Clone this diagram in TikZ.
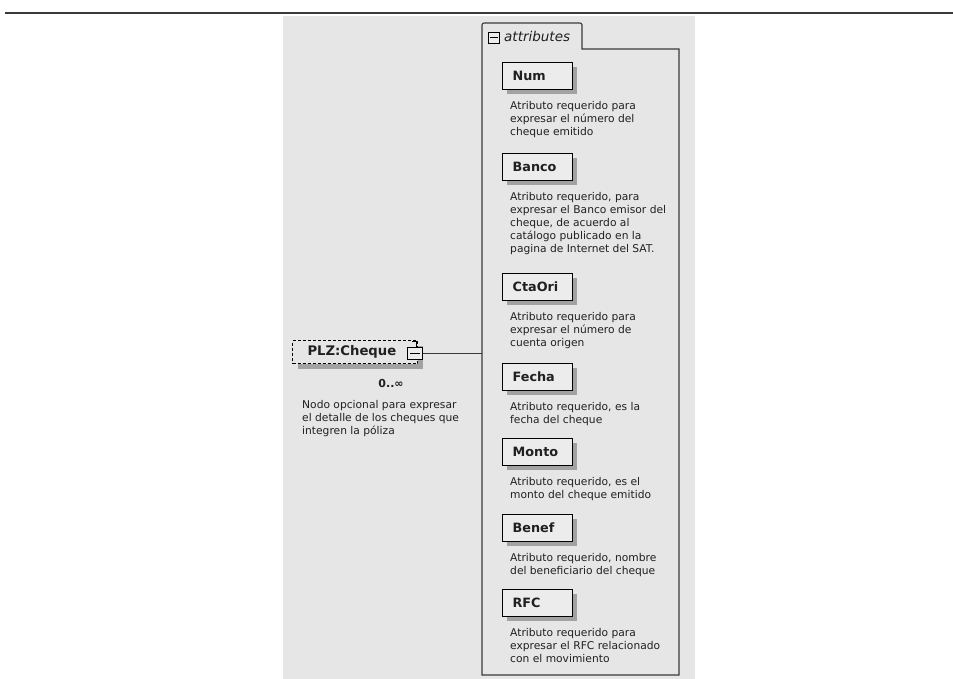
\documentclass[tikz,border=0pt]{standalone}
\usepackage{fontspec}
\setmainfont{DejaVu Sans}
\usetikzlibrary{shadows}
\definecolor{panel}{HTML}{E6E6E6}
\definecolor{boxfill}{HTML}{ECECEC}
\definecolor{shadowc}{HTML}{A2A2A2}
\definecolor{linec}{HTML}{3A3A3A}
\definecolor{textc}{HTML}{202020}
\tikzset{
  attr/.style={draw=black, line width=1.2pt, fill=boxfill, anchor=north west,
    minimum height=27pt, text width=50pt, inner xsep=10pt, inner ysep=0pt, align=left,
    font=\fontsize{12.8}{14}\selectfont\bfseries, text=textc,
    drop shadow={shadow xshift=4.5pt, shadow yshift=-4.5pt, fill=shadowc, opacity=1}},
  desc/.style={anchor=north west, inner sep=0pt, align=left, text=textc,
    font=\fontsize{10.7}{13}\selectfont},
  minusbox/.style={draw=black, line width=0.9pt, fill=boxfill, minimum width=15pt,
    minimum height=12pt, inner sep=0pt},
}
\begin{document}
\begin{tikzpicture}[x=1pt,y=-1pt]
\useasboundingbox (0,0) rectangle (953,679);
% top rule
\draw[line width=2.6pt, color=linec] (5,13) -- (953,13);
% panel
\fill[panel] (283,16) rectangle (695,679);
% attributes container with tab
\draw[linec, line width=1.1pt, fill=panel] (482,675) -- (482,25) [rounded corners=2pt] -- (482,23) -- (582,23) [sharp corners] -- (582,49) -- (679,49) -- (679,675) -- cycle;
\node[minusbox, minimum width=11pt, minimum height=11pt, anchor=north west] (tabicon) at (488,32) {};
\draw[line width=0.9pt] ([xshift=2pt]tabicon.west) -- ([xshift=-2pt]tabicon.east);
\node[anchor=base west, inner sep=0pt, font=\fontsize{13.5}{15}\selectfont\itshape, text=textc] (tablabel) at (504,42) {attributes};

% attribute boxes
\node[attr] (num) at (502,62) {Num};
\node[desc] (numd) at (510,101) {Atributo requerido para\\expresar el número del\\cheque emitido};

\node[attr] (banco) at (502,153) {Banco};
\node[desc] (bancod) at (510,192) {Atributo requerido, para\\expresar el Banco emisor del\\cheque, de acuerdo al\\catálogo publicado en la\\pagina de Internet del SAT.};

\node[attr] (ctaori) at (502,273) {CtaOri};
\node[desc] (ctaorid) at (510,312) {Atributo requerido para\\expresar el número de\\cuenta origen};

\node[attr] (fecha) at (502,363) {Fecha};
\node[desc] (fechad) at (510,402) {Atributo requerido, es la\\fecha del cheque};

\node[attr] (monto) at (502,438) {Monto};
\node[desc] (montod) at (510,477) {Atributo requerido, es el\\monto del cheque emitido};

\node[attr] (benef) at (502,514) {Benef};
\node[desc] (benefd) at (510,553) {Atributo requerido, nombre\\del beneficiario del cheque};

\node[attr] (rfc) at (502,589) {RFC};
\node[desc] (rfcd) at (510,628) {Atributo requerido para\\expresar el RFC relacionado\\con el movimiento};

% PLZ:Cheque element
\node[draw=black, dash pattern=on 3pt off 2pt, line width=1pt, fill=panel, anchor=north west,
  minimum width=121pt, minimum height=23pt, text width=95pt, inner xsep=15pt, inner ysep=0pt,
  align=left, text=textc, font=\fontsize{13.2}{14}\selectfont\bfseries,
  drop shadow={shadow xshift=5pt, shadow yshift=-5pt, fill=shadowc, opacity=1}] (plz) at (292,340) {PLZ:Cheque};
\node[minusbox, anchor=north west] (plzicon) at (407,347) {};
\draw[line width=0.9pt] ([xshift=3pt]plzicon.west) -- ([xshift=-3pt]plzicon.east);
\draw[line width=0.8pt] (412,341) -- (416,341) -- (plzicon.north -| 416,0);
\coordinate (contL) at (482,352);
\draw[linec, line width=1pt] (plzicon.east) -- (plzicon.east -| contL);
\node[anchor=base, inner sep=0pt, font=\fontsize{11}{13}\selectfont\bfseries, text=textc] (card) at (391,387) {0..∞};
\node[desc] (plzd) at (302,400) {Nodo opcional para expresar\\el detalle de los cheques que\\integren la póliza};
\end{tikzpicture}
\end{document}
